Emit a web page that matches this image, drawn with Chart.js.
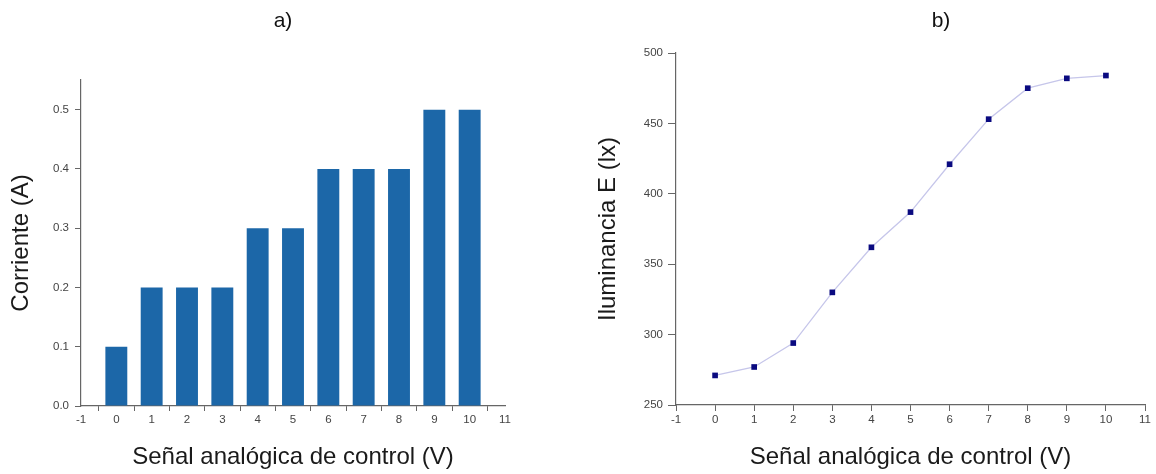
<!DOCTYPE html>
<html>
<head>
<meta charset="utf-8">
<script src="https://cdn.jsdelivr.net/npm/chart.js@4/dist/chart.umd.min.js"></script>
<style>
  html, body { margin: 0; padding: 0; background: #fff; }
  body { width: 1156px; height: 474px; position: relative; overflow: hidden; font-family: "Liberation Sans", Arial, sans-serif; }
  .wrap { position: absolute; top: 0; width: 578px; height: 474px; }
  .ttl { position: absolute; top: 8px; font-size: 21px; color: #111; transform: translateX(-50%); }
</style>
</head>
<body>
<div class="wrap" style="left:0"><canvas id="c1" width="578" height="474"></canvas></div>
<div class="wrap" style="left:578px"><canvas id="c2" width="578" height="474"></canvas></div>
<div class="ttl" style="left:283px">a)</div>
<div class="ttl" style="left:941px">b)</div>
<script>
// Data
const voltages = [0, 1, 2, 3, 4, 5, 6, 7, 8, 9, 10];
const corriente = [0.1, 0.2, 0.2, 0.2, 0.3, 0.3, 0.4, 0.4, 0.4, 0.5, 0.5];
const iluminancia = [271, 277, 294, 330, 362, 387, 421, 453, 475, 482, 484];
const xTitle = 'Señal analógica de control (V)';
const yTitleA = 'Corriente (A)';
const yTitleB = 'Iluminancia E (lx)';

const FONT = '"Liberation Sans", Arial, sans-serif';
const axisColor = '#666';
const tickFont = { family: FONT, size: 11.5 };
const titleFont = { family: FONT, size: 24 };

function xScale(height, tickLen) {
  return {
    type: 'linear', min: -1, max: 11, offset: false,
    ticks: { stepSize: 1, color: '#444', font: tickFont, padding: 2, maxRotation: 0, autoSkip: false },
    grid: { display: true, drawOnChartArea: false, drawTicks: true, tickLength: tickLen, color: axisColor },
    border: { display: true, color: axisColor, width: 1.2 },
    title: { display: true, text: xTitle, font: titleFont, color: '#1a1a1a', padding: { top: 4, bottom: 2 } },
    afterFit: s => { s.height = height; }
  };
}

// Chart a)
new Chart(document.getElementById('c1'), {
  type: 'bar',
  data: {
    datasets: [{
      data: voltages.map((v, i) => ({ x: v, y: corriente[i] })),
      backgroundColor: '#1c67a8',
      borderWidth: 0,
      barPercentage: 0.62,
      categoryPercentage: 1.0
    }]
  },
  options: {
    responsive: false, animation: false,
    layout: { padding: { top: 80, right: 73, left: 0, bottom: 0 } },
    plugins: { legend: { display: false }, tooltip: { enabled: false } },
    scales: {
      x: xScale(68, 5),
      y: {
        min: 0, max: 0.55,
        ticks: { stepSize: 0.1, includeBounds: false, color: '#444', font: tickFont, padding: 6,
                 callback: v => v.toFixed(1) },
        grid: { display: true, drawOnChartArea: false, tickLength: 6, color: axisColor },
        border: { display: true, color: axisColor, width: 1.2 },
        title: { display: true, text: yTitleA, font: titleFont, color: '#1a1a1a', padding: { top: 7, bottom: 4 } },
        afterFit: s => { s.width = 81; }
      }
    }
  }
});

// Chart b)
new Chart(document.getElementById('c2'), {
  type: 'line',
  data: {
    datasets: [{
      data: voltages.map((v, i) => ({ x: v, y: iluminancia[i] })),
      borderColor: '#c6c6ea',
      borderWidth: 1.3,
      tension: 0,
      pointStyle: 'rect',
      pointRadius: 4,
      pointBackgroundColor: '#0a0a80',
      pointBorderColor: '#0a0a80',
      pointBorderWidth: 0
    }]
  },
  options: {
    responsive: false, animation: false,
    layout: { padding: { top: 53, right: 11, left: 0, bottom: 0 } },
    plugins: { legend: { display: false }, tooltip: { enabled: false } },
    scales: {
      x: xScale(69, 6),
      y: {
        min: 250, max: 500,
        ticks: { stepSize: 50, color: '#444', font: tickFont, padding: 5 },
        grid: { display: true, drawOnChartArea: false, tickLength: 8, color: axisColor },
        border: { display: true, color: axisColor, width: 1.2 },
        title: { display: true, text: yTitleB, font: titleFont, color: '#1a1a1a', padding: { top: 16, bottom: 4 } },
        afterFit: s => { s.width = 98; }
      }
    }
  }
});
</script>
</body>
</html>
